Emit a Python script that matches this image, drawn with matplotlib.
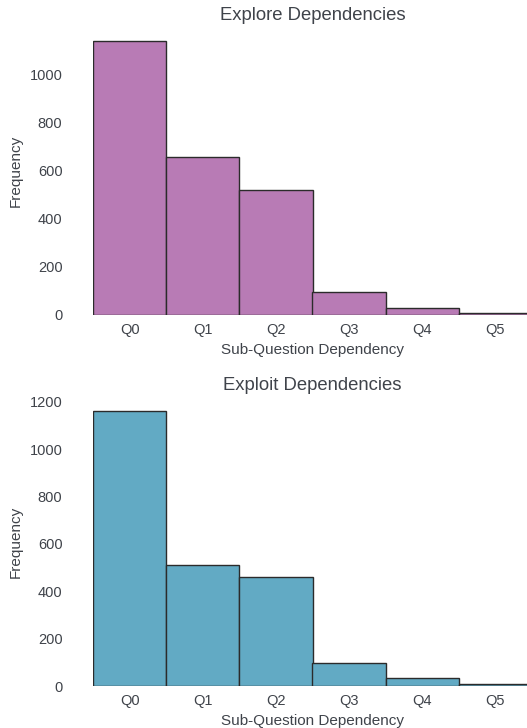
import matplotlib
matplotlib.use("Agg")
import matplotlib.pyplot as plt

categories = ["Q0", "Q1", "Q2", "Q3", "Q4", "Q5"]
explore_counts = [1142, 658, 521, 96, 29, 8]
exploit_counts = [1162, 511, 460, 97, 34, 9]
titles = ["Explore Dependencies", "Exploit Dependencies"]
colors = ["#b87bb5", "#62aac4"]
yticks_top = [0, 200, 400, 600, 800, 1000]
yticks_bot = [0, 200, 400, 600, 800, 1000, 1200]

plt.rcParams['font.family'] = ['Liberation Sans', 'DejaVu Sans']
text_color = "#3f434a"

W, H = 527, 728
fig = plt.figure(figsize=(W / 100, H / 100), dpi=100)

def px_axes(left, top, right, bottom):
    return fig.add_axes([left / W, 1 - bottom / H, (right - left) / W, (bottom - top) / H])

specs = [
    (px_axes(93, 27, 532, 315), explore_counts, yticks_top),
    (px_axes(93, 397, 532, 686), exploit_counts, yticks_bot),
]

for i, (ax, counts, yt) in enumerate(specs):
    x = list(range(len(categories)))
    ax.bar(x, counts, width=1.0, color=colors[i], edgecolor="#2b2b2b", linewidth=1.0, alpha=1.0)
    ax.set_xlim(-0.5, len(categories) - 0.5)
    ax.set_ylim(0, max(counts) * 1.05)
    ax.set_xticks(x)
    ax.set_xticklabels(categories)
    ax.set_yticks(yt)
    for s in ax.spines.values():
        s.set_visible(False)
    ax.tick_params(axis="x", length=0, labelsize=10.5, colors=text_color, pad=6)
    ax.tick_params(axis="y", length=0, labelsize=10.5, colors=text_color, pad=22)
    ax.set_title(titles[i], fontsize=13.3, color=text_color, pad=5)
    ax.set_xlabel("Sub-Question Dependency", fontsize=11, color=text_color, labelpad=4)
    ax.set_ylabel("Frequency", fontsize=11, color=text_color, labelpad=5)

fig.savefig("out.png", dpi=100, facecolor="white")
